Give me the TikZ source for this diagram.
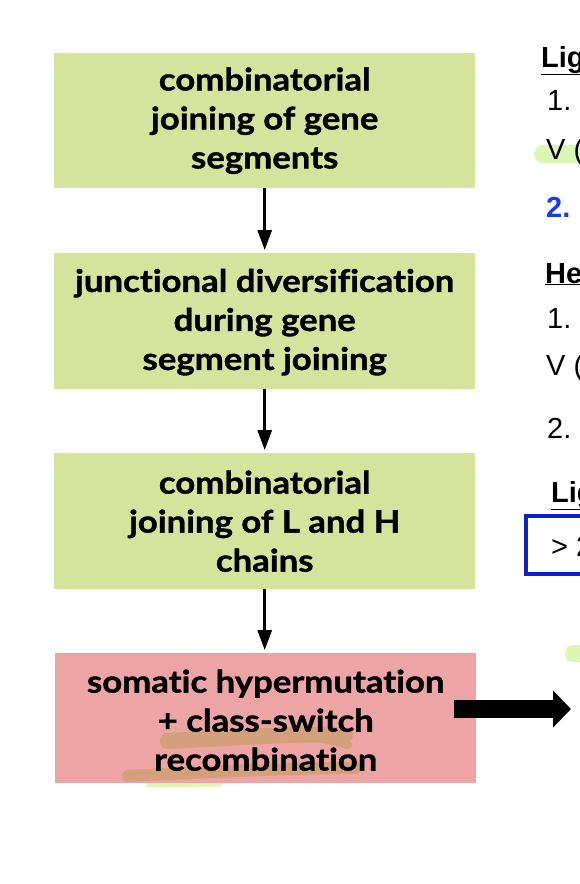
\documentclass[tikz,border=0pt]{standalone}
\usepackage{fontspec}
\setmainfont{Liberation Sans}
\newfontfamily\boxfont[Ligatures={NoCommon,NoRare,NoContextual},FakeStretch=1.12,FakeBold=1.2]{Lato}
\usetikzlibrary{arrows.meta}
\definecolor{boxgreen}{RGB}{214,227,156}
\definecolor{boxpink}{RGB}{237,164,164}
\definecolor{hlgreen}{RGB}{220,246,180}
\definecolor{hlorange}{RGB}{212,160,124}
\definecolor{numblue}{RGB}{26,60,230}
\definecolor{frameblue}{RGB}{16,32,200}
\begin{document}
\begin{tikzpicture}[x=1pt,y=-1pt,
  stagebox/.style={rectangle, inner sep=0pt, minimum width=421pt, anchor=north west},
  stagetext/.style={align=center, inner sep=0pt, font=\boxfont\bfseries\fontsize{31}{39}\selectfont, text=black},
  flow/.style={line width=3pt, -{Triangle[width=14pt,length=20pt]}, shorten >=3pt},
  righttext/.style={anchor=base west, font=\fontsize{29}{34}\selectfont, inner sep=0pt},
  hlstroke/.style={line cap=round, line join=round},
]
\useasboundingbox (0,0) rectangle (580,884);
\clip (0,0) rectangle (580,884);
\fill[white] (0,0) rectangle (580,884);

% stage boxes
\node[stagebox, fill=boxgreen, minimum height=135pt] (b1) at (54,53) {};
\node[stagebox, fill=boxgreen, minimum height=136pt] (b2) at (54,253) {};
\node[stagebox, fill=boxgreen, minimum height=136pt] (b3) at (54,453) {};
\draw[hlgreen, hlstroke, line width=5pt] (148,785) -- (220,784);
\node[stagebox, fill=boxpink, minimum height=130pt] (b4) at (55,653) {};

% highlighter strokes in the pink box
\draw[hlorange, hlstroke, line width=16pt] (168,741) .. controls (230,738) and (300,733) .. (345,735);
\draw[hlorange, hlstroke, line width=8pt] (320,738) -- (348,745);
\draw[hlorange, hlstroke, line width=12pt] (128,776) .. controls (200,772) and (300,768) .. (355,768);

% texts
\node[stagetext] (t1) at (b1.center) {combinatorial\\joining of gene\\segments};
\node[stagetext] (t2) at ([yshift=-1pt]b2.center) {junctional diversification\\during gene\\segment joining};
\node[stagetext] (t3) at (b3.center) {combinatorial\\joining of L and H\\chains};
\node[stagetext] (t4) at ([yshift=-2pt]b4.center) {somatic hypermutation\\+ class-switch\\recombination};

% flow arrows
\draw[flow] (b1.south) -- (b2.north);
\draw[flow] (b2.south) -- (b3.north);
\draw[flow] (b3.south) -- (b3.south |- b4.north);

% big arrow to the right
\coordinate (bigstart) at (454,709);
\coordinate (bigend) at (571,709);
\draw[line width=18pt, -{Triangle[width=36pt,length=18pt]}] (bigstart) -- (bigend);

% right column (cut off at the edge)
\fill[hlgreen] (534,145) [rounded corners=9pt] rectangle (610,163);
\fill[hlgreen] (565,645) [rounded corners=8pt] rectangle (610,662);

\node[righttext, font=\bfseries\fontsize{29}{34}\selectfont] (l1) at (541,67) {\underline{Lig}};
\node[righttext] (l2) at (547,110) {1.};
\node[righttext] (l3) at (546,159) {V (};
\node[righttext, text=numblue, font=\bfseries\fontsize{29}{34}\selectfont] (l4) at (546,217) {2.};
\node[righttext, font=\bfseries\fontsize{29}{34}\selectfont] (h1) at (545,283) {\underline{He}};
\node[righttext] (h2) at (547,328) {1.};
\node[righttext] (h3) at (546,375) {V (};
\node[righttext] (h4) at (547,438) {2.};
\node[righttext, font=\bfseries\fontsize{29}{34}\selectfont] (g1) at (551,502) {\underline{Lig}};
\draw[frameblue, line width=4pt] (526,516) rectangle (620,574);
\node[righttext] (g2) at (551,556) {> 2};
\end{tikzpicture}
\end{document}
